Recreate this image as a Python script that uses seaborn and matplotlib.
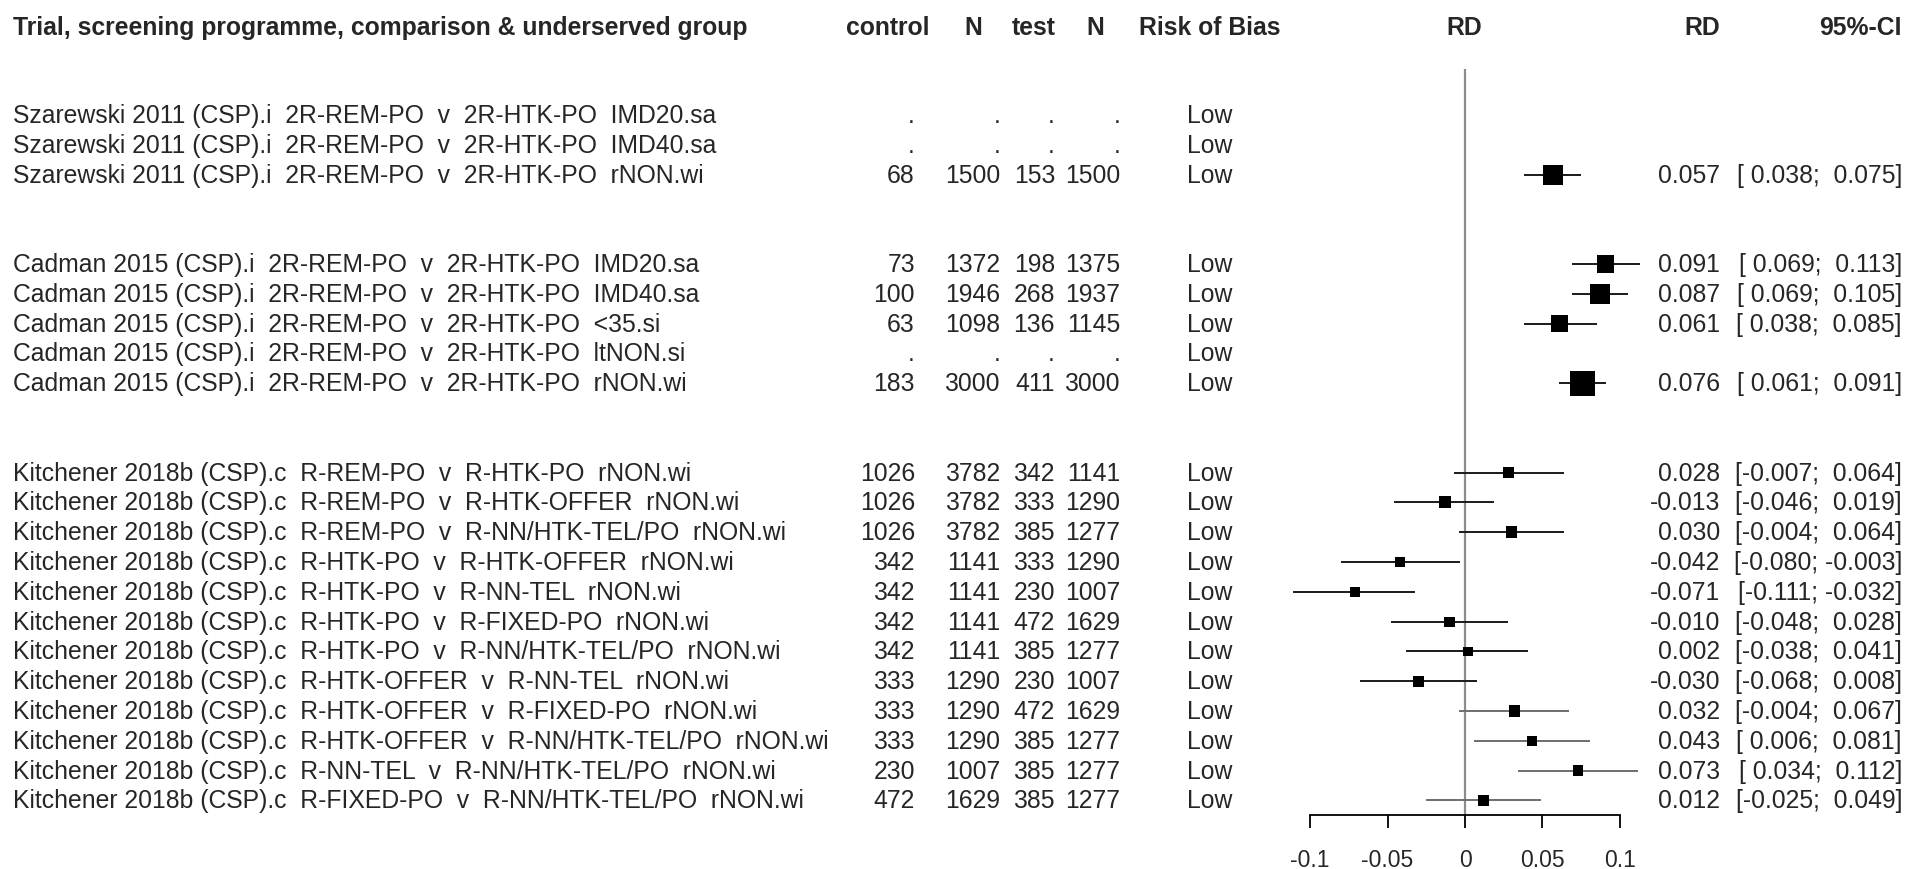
import numpy as np
import pandas as pd
import matplotlib.pyplot as plt
import matplotlib.transforms as mtransforms
import seaborn as sns

# Study rows
trials = (["Szarewski 2011 (CSP).i"] * 3 + ["Cadman 2015 (CSP).i"] * 5
          + ["Kitchener 2018b (CSP).c"] * 12)
comparisons = (["2R-REM-PO  v  2R-HTK-PO"] * 8
               + ["R-REM-PO  v  R-HTK-PO", "R-REM-PO  v  R-HTK-OFFER",
                  "R-REM-PO  v  R-NN/HTK-TEL/PO", "R-HTK-PO  v  R-HTK-OFFER",
                  "R-HTK-PO  v  R-NN-TEL", "R-HTK-PO  v  R-FIXED-PO",
                  "R-HTK-PO  v  R-NN/HTK-TEL/PO", "R-HTK-OFFER  v  R-NN-TEL",
                  "R-HTK-OFFER  v  R-FIXED-PO", "R-HTK-OFFER  v  R-NN/HTK-TEL/PO",
                  "R-NN-TEL  v  R-NN/HTK-TEL/PO", "R-FIXED-PO  v  R-NN/HTK-TEL/PO"])
groups = (["IMD20.sa", "IMD40.sa", "rNON.wi",
           "IMD20.sa", "IMD40.sa", "<35.si", "ltNON.si", "rNON.wi"]
          + ["rNON.wi"] * 12)
control = [np.nan, np.nan, 68, 73, 100, 63, np.nan, 183,
           1026, 1026, 1026, 342, 342, 342, 342, 333, 333, 333, 230, 472]
control_n = [np.nan, np.nan, 1500, 1372, 1946, 1098, np.nan, 3000,
             3782, 3782, 3782, 1141, 1141, 1141, 1141, 1290, 1290, 1290, 1007, 1629]
test = [np.nan, np.nan, 153, 198, 268, 136, np.nan, 411,
        342, 333, 385, 333, 230, 472, 385, 230, 472, 385, 385, 385]
test_n = [np.nan, np.nan, 1500, 1375, 1937, 1145, np.nan, 3000,
          1141, 1290, 1277, 1290, 1007, 1629, 1277, 1007, 1629, 1277, 1277, 1277]
risk_of_bias = ["Low"] * 20
rd = [np.nan, np.nan, 0.057, 0.091, 0.087, 0.061, np.nan, 0.076,
      0.028, -0.013, 0.030, -0.042, -0.071, -0.010, 0.002, -0.030, 0.032, 0.043, 0.073, 0.012]
ci_lower = [np.nan, np.nan, 0.038, 0.069, 0.069, 0.038, np.nan, 0.061,
            -0.007, -0.046, -0.004, -0.080, -0.111, -0.048, -0.038, -0.068, -0.004, 0.006, 0.034, -0.025]
ci_upper = [np.nan, np.nan, 0.075, 0.113, 0.105, 0.085, np.nan, 0.091,
            0.064, 0.019, 0.064, -0.003, -0.032, 0.028, 0.041, 0.008, 0.067, 0.081, 0.112, 0.049]
# relative study weight (drives square area)
weight = [np.nan, np.nan, 4.0, 2.9, 4.0, 2.9, np.nan, 6.3,
          1.3, 1.45, 1.3, 1.15, 1.0, 1.0, 0.9, 1.15, 1.2, 1.0, 1.15, 1.15]

df = pd.DataFrame({
    "trial": trials, "comparison": comparisons, "group": groups,
    "control": control, "control_n": control_n, "test": test, "test_n": test_n,
    "rob": risk_of_bias, "rd": rd, "lo": ci_lower, "hi": ci_upper, "weight": weight,
})

# row positions: two empty rows between trials
rows = []
pos = 0
for i, t in enumerate(df["trial"]):
    if i > 0 and t != df["trial"][i - 1]:
        pos += 2
    rows.append(pos)
    pos += 1
df["row"] = rows

sns.set_theme(style="white")
plt.rcParams["font.family"] = ["Liberation Sans", "DejaVu Sans"]

W, H = 1907, 870
fig = plt.figure(figsize=(W / 100, H / 100), dpi=100)
row0_px, row_step = 116.0, 29.8
ax_top, ax_bottom = 60, 816
ax = fig.add_axes([1287 / W, 1 - ax_bottom / H, (1643 - 1287) / W, (ax_bottom - ax_top) / H])
y_top = (ax_top - row0_px) / row_step
y_bottom = (ax_bottom - row0_px) / row_step
ax.set_xlim(-0.115, 0.115)
ax.set_ylim(y_bottom, y_top)

# reference line at zero
ax.vlines(0, (70 - row0_px) / row_step, y_bottom, color="#8c8c8c", lw=1.6, zorder=1)

# confidence intervals and squares
est = df.dropna(subset=["rd"])
line_cols = ["#1a1a1a"] * (len(est) - 4) + ["#6e6e6e"] * 4
ax.hlines(est["row"], est["lo"], est["hi"], colors=line_cols, lw=1.4, zorder=2, clip_on=False)
sns.scatterplot(data=est, x="rd", y="row", size="weight", sizes=(0, 330), size_norm=(0, 6.3),
                marker="s", color="black", edgecolor="black", linewidth=0,
                legend=False, ax=ax, zorder=3, clip_on=False)

for side in ["top", "left", "right"]:
    ax.spines[side].set_visible(False)
ax.spines["bottom"].set_bounds(-0.1, 0.1)
ax.spines["bottom"].set_color("black")
ax.spines["bottom"].set_linewidth(1.3)
ax.set_yticks([])
ax.set_xticks([-0.1, -0.05, 0, 0.05, 0.1])
ax.set_xticklabels(["-0.1", "-0.05", "0", "0.05", "0.1"])
ax.tick_params(axis="x", direction="out", length=9.5, width=1.3, color="black",
               labelsize=16.5, pad=14, bottom=True)
ax.set_xlabel("")
ax.set_ylabel("")
ax.patch.set_alpha(0)

# text columns
trans = mtransforms.blended_transform_factory(fig.transFigure, ax.transData)
fs = 17.8
head_y = (28 - row0_px) / row_step


def num(v):
    return "." if pd.isna(v) else f"{int(v)}"


headers = [
    (13, "Trial, screening programme, comparison & underserved group", "left"),
    (888, "control", "center"), (973, "N", "center"), (1034, "test", "center"),
    (1095, "N", "center"), (1210, "Risk of Bias", "center"), (1464, "RD", "center"),
    (1720, "RD", "right"), (1902, "95%-CI", "right"),
]
for x, s, ha in headers:
    ax.text(x / W, head_y, s, transform=trans, ha=ha, va="center", fontsize=fs,
            fontweight="bold", clip_on=False)

num_cols = [(915, "control"), (1000, "control_n"), (1055, "test"), (1120, "test_n")]
for _, r in df.iterrows():
    y = r["row"]
    label = f"{r['trial']}  {r['comparison']}  {r['group']}"
    ax.text(13 / W, y, label, transform=trans, ha="left", va="center", fontsize=fs)
    for x, col in num_cols:
        ax.text(x / W, y, num(r[col]), transform=trans, ha="right", va="center", fontsize=fs)
    ax.text(1210 / W, y, r["rob"], transform=trans, ha="center", va="center", fontsize=fs)
    if not pd.isna(r["rd"]):
        ax.text(1720 / W, y, f"{r['rd']:.3f}", transform=trans, ha="right", va="center", fontsize=fs)
        ci = f"[{r['lo']:6.3f}; {r['hi']:6.3f}]"
        ax.text(1902 / W, y, ci, transform=trans, ha="right", va="center", fontsize=fs)

fig.savefig("out.png", dpi=100, facecolor="white")
